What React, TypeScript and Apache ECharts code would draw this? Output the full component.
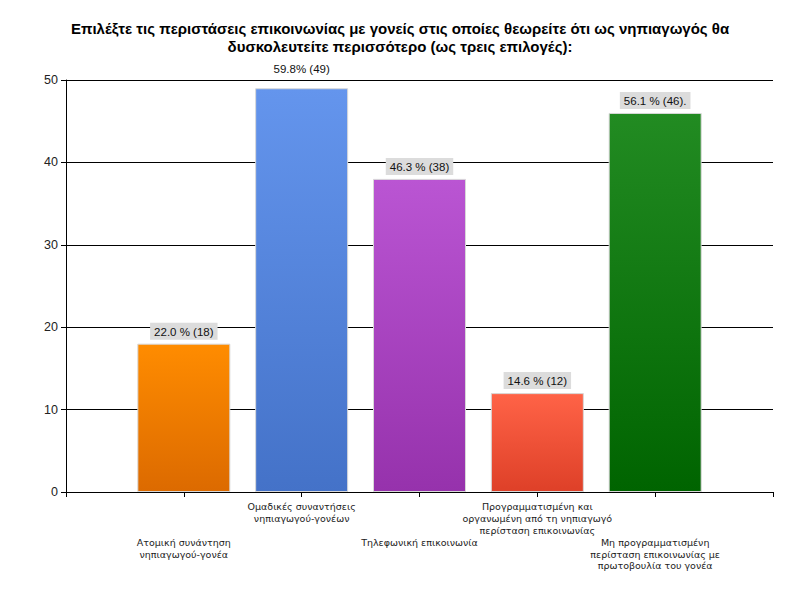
import React, { useEffect, useRef } from "react";
import * as echarts from "echarts";

const titleText =
  "Επιλέξτε τις περιστάσεις επικοινωνίας με γονείς στις οποίες θεωρείτε ότι ως νηπιαγωγός θα\nδυσκολευτείτε περισσότερο (ως τρεις επιλογές):";

const categories = [
  "",
  "Ατομική συνάντηση\nνηπιαγωγού-γονέα",
  "Ομαδικές συναντήσεις\nνηπιαγωγού-γονέων",
  "Τηλεφωνική επικοινωνία",
  "Προγραμματισμένη και\nοργανωμένη από τη νηπιαγωγό\nπερίσταση επικοινωνίας",
  "Μη προγραμματισμένη\nπερίσταση επικοινωνίας με\nπρωτοβουλία του γονέα",
  "",
];

const values = [null, 18, 49, 38, 12, 46, null];

const barLabels = ["", "22.0 % (18)", "59.8% (49)", "46.3 % (38)", "14.6 % (12)", "56.1 % (46).", ""];

const topColors = ["", "#ff8c00", "#6495ed", "#ba55d3", "#ff6347", "#228b22", ""];
const bottomColors = ["", "#dc6a00", "#4472c8", "#9632ac", "#de4028", "#006400", ""];

const yTicks = { min: 0, max: 50, interval: 10 };

export default function App() {
  const ref = useRef<HTMLDivElement>(null);
  useEffect(() => {
    if (!ref.current) return;
    const chart = echarts.init(ref.current, null, { renderer: "svg" });
    const data = values.map((v, i) => {
      if (v === null) return null;
      const noBg = i === 2;
      return {
        value: v,
        itemStyle: {
          color: new echarts.graphic.LinearGradient(0, 0, 0, 1, [
            { offset: 0, color: topColors[i] },
            { offset: 1, color: bottomColors[i] },
          ]),
          borderColor: "#d8d8d8",
          borderWidth: 1,
        },
        label: {
          show: true,
          position: "top",
          distance: noBg ? 11 : 4,
          formatter: () => barLabels[i],
          backgroundColor: noBg ? "transparent" : "#dcdcdc",
          padding: [3, 4, 2, 4],
          color: "#111",
          fontSize: 11.5,
          fontFamily: "Liberation Sans",
        },
      };
    });
    chart.setOption({
      animation: false,
      backgroundColor: "#fff",
      title: {
        text: titleText,
        left: "center",
        top: 14,
        textStyle: {
          fontSize: 15,
          fontWeight: "bold",
          fontFamily: "Liberation Sans",
          color: "#000",
          lineHeight: 18,
        },
      },
      grid: { left: 66, right: 27, top: 80, bottom: 108, containLabel: false },
      xAxis: {
        type: "category",
        data: categories,
        boundaryGap: false,
        axisLine: { show: true, lineStyle: { color: "#000", width: 1 } },
        axisTick: { show: true, length: 5, lineStyle: { color: "#000" } },
        splitLine: { show: false },
        axisLabel: {
          interval: 0,
          margin: 9,
          fontSize: 9.5,
          lineHeight: 11.8,
          color: "#222",
          fontFamily: "DejaVu Sans",
          align: "center",
          formatter: (val: string, idx: number) => (idx % 2 === 1 ? "\n\n\n" + val : val),
        },
      },
      yAxis: {
        type: "value",
        min: yTicks.min,
        max: yTicks.max,
        interval: yTicks.interval,
        axisLine: { show: true, lineStyle: { color: "#000" } },
        axisTick: { show: true, length: 5, lineStyle: { color: "#000" } },
        splitLine: { show: true, lineStyle: { color: "#000", width: 1 } },
        axisLabel: {
          margin: 8,
          fontSize: 12.5,
          color: "#222",
          fontFamily: "Liberation Sans",
        },
      },
      series: [
        {
          type: "bar",
          data,
          barWidth: 93,
        },
      ],
    });
    return () => chart.dispose();
  }, []);
  return <div ref={ref} style={{ width: 800, height: 600, position: "absolute", left: 0, top: 0 }} />;
}
